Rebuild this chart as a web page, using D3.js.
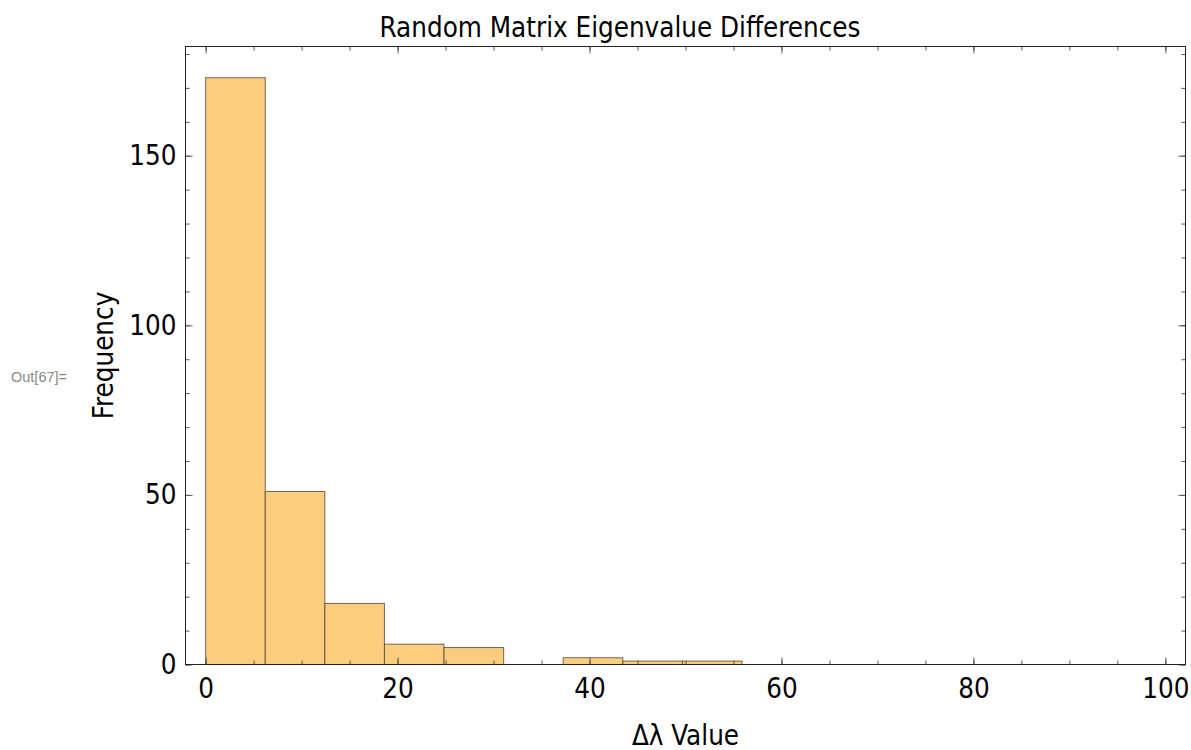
<!DOCTYPE html>
<html>
<head>
<meta charset="utf-8">
<script src="https://cdn.jsdelivr.net/npm/d3@7"></script>
<style>
    body { margin: 0; background: #fff; }
    svg text { font-family: "DejaVu Sans Condensed", "DejaVu Sans", sans-serif; font-stretch: condensed; }
</style>
</head>
<body>
<div id="chart"></div>
<script>
// Histogram of eigenvalue spacings
const binWidth = 6.21;
const binCounts = [173, 51, 18, 6, 5, 0, 2, 1, 1];
const xMajorTicks = [0, 20, 40, 60, 80, 100];
const yMajorTicks = [0, 50, 100, 150];
const xMinorTicks = d3.range(0, 101, 5);
const yMinorTicks = d3.range(0, 181, 10);

const titleText = 'Random Matrix Eigenvalue Differences';
const xLabelText = '\u0394\u03bb Value';
const yLabelText = 'Frequency';
const outLabel = 'Out[67]=';

const bins = binCounts.map((count, i) => ({ x0: i * binWidth, x1: (i + 1) * binWidth, count: count }));

const width = 1191;
const height = 750;
const frame = { left: 185.5, right: 1185.5, top: 46.5, bottom: 664.5 };

const svg = d3.select('#chart')
    .append('svg')
    .attr('width', width)
    .attr('height', height);

const xScale = d3.scaleLinear()
    .domain([-2.1, 102.1])
    .range([frame.left, frame.right]);

const yScale = d3.scaleLinear()
    .domain([0, 182.2])
    .range([frame.bottom, frame.top]);

// Bars
svg.append('g')
    .selectAll('rect')
    .data(bins.filter(b => b.count > 0))
    .enter()
    .append('rect')
    .attr('x', d => xScale(d.x0))
    .attr('y', d => yScale(d.count))
    .attr('width', d => xScale(d.x1) - xScale(d.x0))
    .attr('height', d => yScale(0) - yScale(d.count))
    .attr('fill', '#fccd7f')
    .attr('stroke', 'rgba(70,60,45,0.75)')
    .attr('stroke-width', 1);

// Frame ticks (inward), major and minor on all four sides
function styleAxis(g) {
    g.select('.domain').remove();
    g.selectAll('.tick line').attr('stroke', '#555').attr('stroke-width', 1);
}

const fontSize = 27.5;

svg.append('g')
    .attr('transform', `translate(0,${frame.bottom})`)
    .call(d3.axisBottom(xScale).tickValues(xMinorTicks).tickSize(-4).tickFormat(''))
    .call(styleAxis);
svg.append('g')
    .attr('transform', `translate(0,${frame.bottom})`)
    .call(d3.axisBottom(xScale).tickValues(xMajorTicks).tickSize(-7).tickPadding(14).tickFormat(d3.format('d')))
    .call(styleAxis)
    .selectAll('text')
    .attr('font-size', fontSize)
    .attr('fill', '#000');

svg.append('g')
    .attr('transform', `translate(0,${frame.top})`)
    .call(d3.axisTop(xScale).tickValues(xMinorTicks).tickSize(-4).tickFormat(''))
    .call(styleAxis);
svg.append('g')
    .attr('transform', `translate(0,${frame.top})`)
    .call(d3.axisTop(xScale).tickValues(xMajorTicks).tickSize(-7).tickFormat(''))
    .call(styleAxis);

svg.append('g')
    .attr('transform', `translate(${frame.left},0)`)
    .call(d3.axisLeft(yScale).tickValues(yMinorTicks).tickSize(-4).tickFormat(''))
    .call(styleAxis);
svg.append('g')
    .attr('transform', `translate(${frame.left},0)`)
    .call(d3.axisLeft(yScale).tickValues(yMajorTicks).tickSize(-7).tickPadding(9).tickFormat(d3.format('d')))
    .call(styleAxis)
    .selectAll('text')
    .attr('font-size', fontSize)
    .attr('fill', '#000');

svg.append('g')
    .attr('transform', `translate(${frame.right},0)`)
    .call(d3.axisRight(yScale).tickValues(yMinorTicks).tickSize(-4).tickFormat(''))
    .call(styleAxis);
svg.append('g')
    .attr('transform', `translate(${frame.right},0)`)
    .call(d3.axisRight(yScale).tickValues(yMajorTicks).tickSize(-7).tickFormat(''))
    .call(styleAxis);

// Frame
svg.append('rect')
    .attr('x', frame.left)
    .attr('y', frame.top)
    .attr('width', frame.right - frame.left)
    .attr('height', frame.bottom - frame.top)
    .attr('fill', 'none')
    .attr('stroke', '#222')
    .attr('stroke-width', 1);

// Title and axis labels
svg.append('text')
    .attr('x', 620)
    .attr('y', 37)
    .attr('text-anchor', 'middle')
    .attr('font-size', fontSize)
    .attr('fill', '#000')
    .text(titleText);

svg.append('text')
    .attr('x', (frame.left + frame.right) / 2)
    .attr('y', 745)
    .attr('text-anchor', 'middle')
    .attr('font-size', fontSize)
    .attr('fill', '#000')
    .text(xLabelText);

svg.append('text')
    .attr('transform', `translate(113,${(frame.top + frame.bottom) / 2}) rotate(-90)`)
    .attr('text-anchor', 'middle')
    .attr('font-size', fontSize)
    .attr('fill', '#000')
    .text(yLabelText);

svg.append('text')
    .attr('x', 11)
    .attr('y', 382)
    .attr('font-size', 14.5)
    .style('font-family', '"Liberation Sans", Arial, sans-serif')
    .attr('fill', '#888')
    .text(outLabel);
</script>
</body>
</html>
